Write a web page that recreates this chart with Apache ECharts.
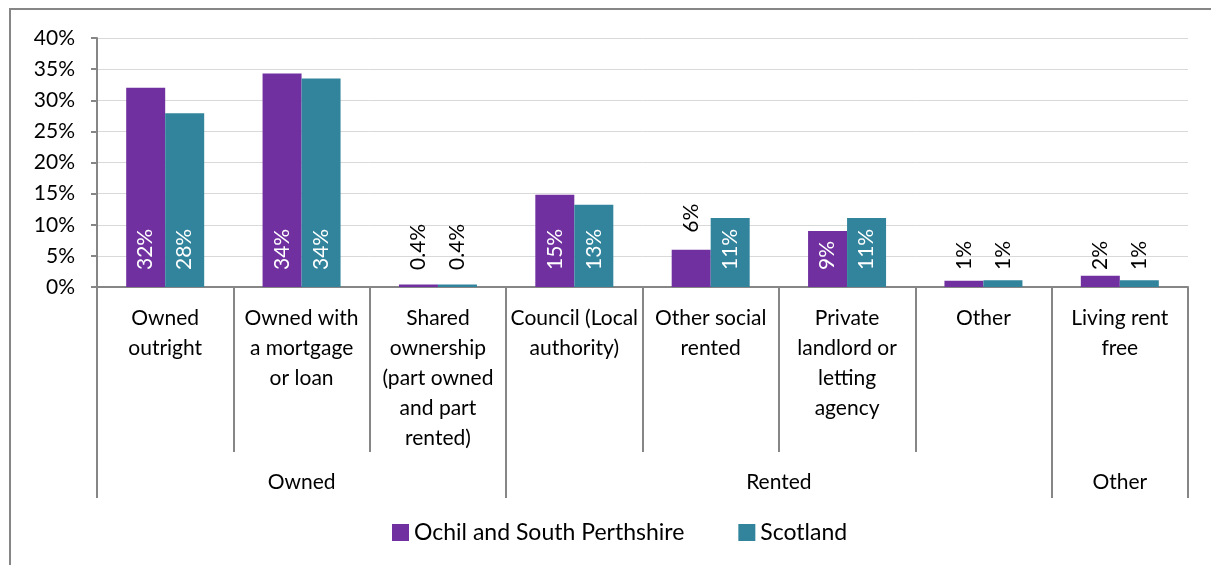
<!DOCTYPE html>
<html>
<head>
<meta charset="utf-8">
<script src="https://cdn.jsdelivr.net/npm/echarts@6/dist/echarts.min.js"></script>
<style>
  html, body { margin: 0; padding: 0; background: #fff; }
  #chart { width: 1211px; height: 565px; }
</style>
</head>
<body>
<div id="chart"></div>
<script>
// tenure categories (sub level) and their groups
const categories = [
  'Owned\noutright',
  'Owned with\na mortgage\nor loan',
  'Shared\nownership\n(part owned\nand part\nrented)',
  'Council (Local\nauthority)',
  'Other social\nrented',
  'Private\nlandlord or\nletting\nagency',
  'Other',
  'Living rent\nfree'
];
const groupNames = ['Owned', 'Rented', 'Other'];
const groupSizes = [3, 4, 1];

const ochil = [32.0, 34.3, 0.4, 14.8, 6.0, 9.0, 1.0, 1.8];
const scotland = [27.9, 33.5, 0.4, 13.2, 11.1, 11.1, 1.1, 1.1];

const seriesNames = ['Ochil and South Perthshire', 'Scotland'];

// group boundaries and centres on a 0..8 scale
const groupBounds = [0];
groupSizes.forEach(s => groupBounds.push(groupBounds[groupBounds.length - 1] + s));
const groupCentres = groupNames.map((g, i) => (groupBounds[i] + groupBounds[i + 1]) / 2);

const FONT = 'Lato';

function pct(v) {
  return (v < 1 ? v.toFixed(1) : Math.round(v)) + '%';
}

function barData(values) {
  return values.map(v => {
    let label;
    if (v >= 9) {
      label = {position: 'insideBottom', distance: 17, color: '#fff'};
    } else if (v >= 3) {
      label = {position: 'top', distance: 17, color: '#000'};
    } else {
      label = {position: 'insideBottom', distance: 17, color: '#000'};
    }
    return {value: v, label: label};
  });
}

const baseLabel = {
  show: true,
  rotate: 90,
  align: 'left',
  verticalAlign: 'middle',
  fontFamily: FONT,
  fontSize: 21,
  formatter: p => pct(p.value)
};

const chart = echarts.init(document.getElementById('chart'));
const option = {
  backgroundColor: '#fff',
  textStyle: {fontFamily: FONT},
  animation: false,
  graphic: [
    {
      type: 'rect',
      shape: {x: 10, y: 9, width: 1400, height: 800},
      style: {fill: 'none', stroke: '#868686', lineWidth: 2},
      silent: true
    }
  ],
  grid: {
    left: 97,
    right: 23,
    top: 38,
    bottom: 278
  },
  legend: {
    data: seriesNames,
    left: 387,
    top: 516,
    icon: 'rect',
    itemWidth: 17,
    itemHeight: 17,
    itemGap: 54,
    textStyle: {fontFamily: FONT, fontSize: 23, color: '#000'}
  },
  xAxis: [
    {
      type: 'category',
      data: categories,
      axisLine: {lineStyle: {color: '#868686', width: 2}},
      axisTick: {show: true, interval: 0, length: 165, lineStyle: {color: '#868686', width: 2}},
      axisLabel: {interval: 0, fontFamily: FONT, fontSize: 21, lineHeight: 30, color: '#000', margin: 16}
    },
    {
      type: 'value',
      min: 0,
      max: 8,
      position: 'bottom',
      axisLine: {show: false},
      splitLine: {show: false},
      axisTick: {
        show: true,
        customValues: groupBounds,
        length: 211,
        lineStyle: {color: '#868686', width: 2}
      },
      axisLabel: {
        customValues: groupCentres,
        formatter: v => groupNames[groupCentres.indexOf(v)],
        fontFamily: FONT,
        fontSize: 21,
        lineHeight: 30,
        color: '#000',
        margin: 180
      }
    }
  ],
  yAxis: {
    type: 'value',
    min: 0,
    max: 40,
    interval: 5,
    axisLine: {show: true, lineStyle: {color: '#868686', width: 2}},
    axisTick: {show: true, length: 6, lineStyle: {color: '#868686', width: 2}},
    axisLabel: {formatter: '{value}%', fontFamily: FONT, fontSize: 21, color: '#000', margin: 22},
    splitLine: {lineStyle: {color: '#d9d9d9', width: 1}}
  },
  series: [
    {
      name: seriesNames[0],
      type: 'bar',
      xAxisIndex: 0,
      data: barData(ochil),
      barWidth: 39,
      barGap: '0%',
      itemStyle: {color: '#7030A0'},
      label: baseLabel
    },
    {
      name: seriesNames[1],
      type: 'bar',
      xAxisIndex: 0,
      data: barData(scotland),
      barWidth: 39,
      barGap: '0%',
      itemStyle: {color: '#31849B'},
      label: baseLabel
    }
  ]
};
chart.setOption(option, true);
</script>
</body>
</html>
